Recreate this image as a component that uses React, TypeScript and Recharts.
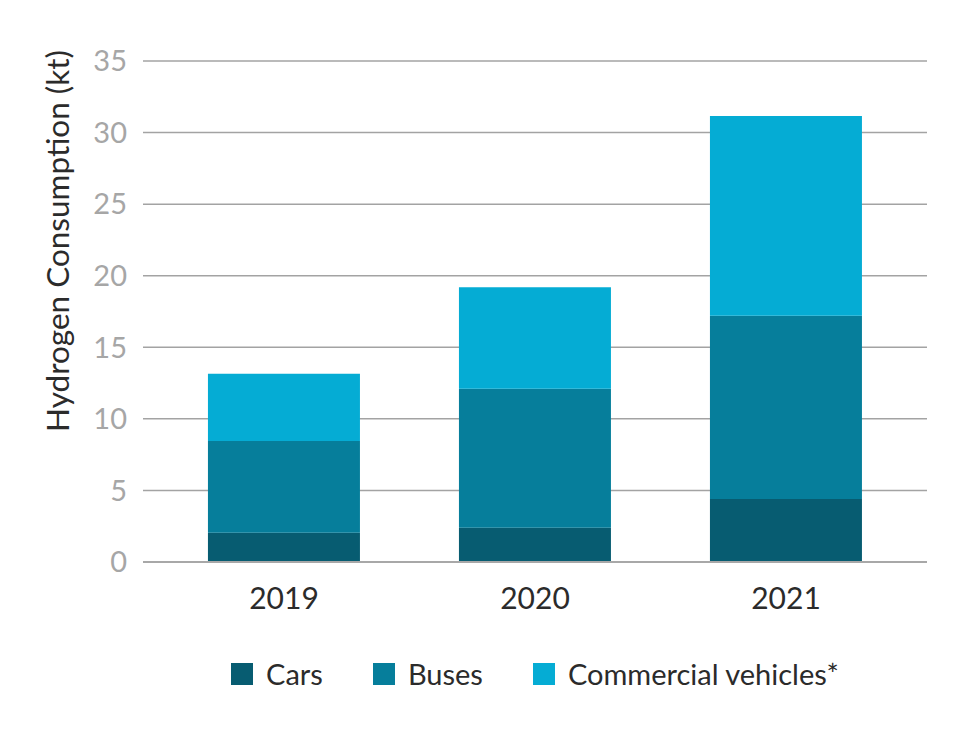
import { Bar, BarChart, CartesianGrid, Label, Legend, XAxis, YAxis } from "recharts";

const years = ["2019", "2020", "2021"];
const cars = [2.05, 2.4, 4.4];
const buses = [6.4, 9.7, 12.8];
const commercial = [4.7, 7.1, 13.95];
const yTicks = [0, 5, 10, 15, 20, 25, 30, 35];

const series = [
    { key: "cars", name: "Cars", color: "#075c71" },
    { key: "buses", name: "Buses", color: "#067e9b" },
    { key: "commercial", name: "Commercial vehicles*", color: "#05acd4" },
];

const data = years.map((year, i) => ({
    year,
    cars: cars[i],
    buses: buses[i],
    commercial: commercial[i],
}));

const FONT = "Lato, 'Open Sans', sans-serif";

function LegendContent() {
    return (
        <div style={{ display: "flex", justifyContent: "center", fontFamily: FONT, fontSize: 29, color: "#2b2b2b" }}>
            {series.map((s, i) => (
                <div key={s.key} style={{ display: "flex", alignItems: "center", marginLeft: i === 0 ? 0 : 50 }}>
                    <span style={{ width: 22, height: 22, background: s.color, display: "inline-block", marginRight: 13 }} />
                    <span>{s.name}</span>
                </div>
            ))}
        </div>
    );
}

export default function App() {
    return (
        <div style={{ position: "absolute", left: 0, top: 0, background: "#fff" }}>
            <BarChart
                width={964}
                height={736}
                data={data}
                barCategoryGap="19.7%"
                margin={{ top: 61, right: 37, left: 0, bottom: 114 }}
            >
                <CartesianGrid vertical={false} stroke="#a3a3a3" strokeWidth={1.5} />
                <XAxis
                    dataKey="year"
                    height={60}
                    padding={{ left: 15.5, right: 15.5 }}
                    tickLine={false}
                    tickMargin={20}
                    axisLine={{ stroke: "#a8a8a8", strokeWidth: 2 }}
                    tick={{ fill: "#2b2b2b", fontSize: 30, fontFamily: FONT }}
                />
                <YAxis
                    width={143}
                    domain={[0, 35]}
                    ticks={yTicks}
                    interval={0}
                    tickLine={false}
                    axisLine={false}
                    tickMargin={10}
                    tick={{ fill: "#a6a6a6", fontSize: 29, fontFamily: FONT }}
                >
                    <Label
                        content={() => (
                            <text
                                x={57}
                                y={241}
                                transform="rotate(-90, 57, 241)"
                                textAnchor="middle"
                                dominantBaseline="central"
                                fill="#2b2b2b"
                                fontSize={31.5}
                                fontFamily={FONT}
                            >
                                Hydrogen Consumption (kt)
                            </text>
                        )}
                    />
                </YAxis>
                <Legend
                    layout="horizontal"
                    verticalAlign="middle"
                    align="center"
                    content={<LegendContent />}
                    wrapperStyle={{ top: 656, left: 143, width: 784, height: 40 }}
                />
                {series.map((s) => (
                    <Bar key={s.key} dataKey={s.key} name={s.name} stackId="a" fill={s.color} isAnimationActive={false} />
                ))}
            </BarChart>
        </div>
    );
}
